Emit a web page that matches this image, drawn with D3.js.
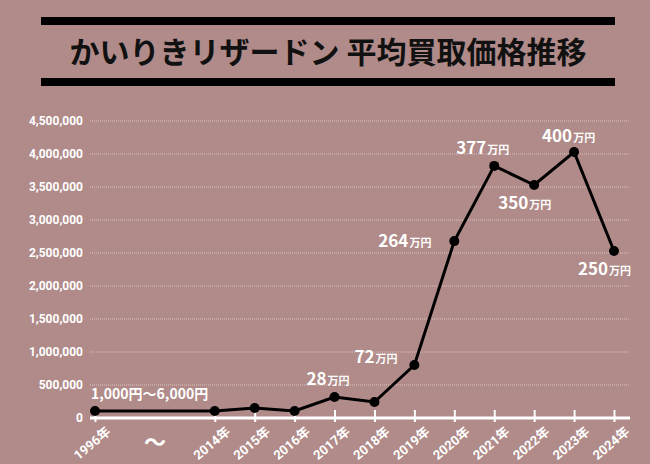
<!DOCTYPE html>
<html><head><meta charset="utf-8">
<script src="https://cdn.jsdelivr.net/npm/d3@7"></script>
<style>body{margin:0;background:#b08b89}svg{display:block;font-family:"Noto Sans CJK JP",sans-serif}</style>
</head><body><div id="chart"></div>
<script>
const slots = ["1996年", "gapA", "gapB", "2014年", "2015年", "2016年", "2017年", "2018年", "2019年", "2020年", "2021年", "2022年", "2023年", "2024年"];
const years = ["1996年", "2014年", "2015年", "2016年", "2017年", "2018年", "2019年", "2020年", "2021年", "2022年", "2023年", "2024年"];
const prices = [106000, 106000, 152000, 106000, 318000, 242000, 803000, 2680000, 3820000, 3530000, 4030000, 2530000];
const yTicks = [0, 500000, 1000000, 1500000, 2000000, 2500000, 3000000, 3500000, 4000000, 4500000];
const notes = [
  { year: "1996年", num: "1,000円〜6,000円", unit: "", dx: -4, dy: -12 },
  { year: "2017年", num: "28", unit: "万円", dx: -28, dy: -12 },
  { year: "2019年", num: "72", unit: "万円", dx: -60, dy: -2 },
  { year: "2020年", num: "264", unit: "万円", dx: -76, dy: 6 },
  { year: "2021年", num: "377", unit: "万円", dx: -38, dy: -12 },
  { year: "2022年", num: "350", unit: "万円", dx: -36, dy: 24 },
  { year: "2023年", num: "400", unit: "万円", dx: -32, dy: -10 },
  { year: "2024年", num: "250", unit: "万円", dx: -36, dy: 24 }
];

const width = 650, height = 464;
const svg = d3.select("#chart").append("svg").attr("width", width).attr("height", height);

// title with bars
svg.append("rect").attr("x", 41).attr("y", 17).attr("width", 574).attr("height", 8).attr("fill", "#000");
svg.append("rect").attr("x", 41).attr("y", 78).attr("width", 574).attr("height", 8).attr("fill", "#000");
svg.append("text").attr("x", 328).attr("y", 63).attr("text-anchor", "middle")
  .attr("font-size", 30).attr("font-weight", "bold").attr("fill", "#111")
  .text("かいりきリザードン 平均買取価格推移");

const x = d3.scalePoint().domain(slots).range([95, 614]);
const y = d3.scaleLinear().domain([0, 4500000]).range([418, 121]);

// grid
svg.append("g").selectAll("line").data(yTicks.slice(1)).join("line")
  .attr("x1", 90).attr("x2", 630).attr("y1", d => y(d)).attr("y2", d => y(d))
  .attr("stroke", "#d8c4c2").attr("stroke-dasharray", "1,1").attr("stroke-width", 1);

svg.append("g").selectAll("text").data(yTicks).join("text")
  .attr("x", 83).attr("y", d => y(d) + 4).attr("text-anchor", "end")
  .attr("fill", "#fff").attr("font-size", 12).attr("font-weight", "bold")
  .attr("font-family", "Roboto, sans-serif")
  .text(d => d3.format(",")(d));

// x axis
const xAxis = svg.append("g").attr("transform", `translate(0,${y(0)})`)
  .call(d3.axisBottom(x).tickValues(years).tickSize(8).tickSizeOuter(0).tickFormat(""));
xAxis.select(".domain").remove();
xAxis.selectAll(".tick line").attr("stroke", "#fff").attr("stroke-width", 2).attr("y1", -8).attr("y2", 4);
xAxis.append("line").attr("x1", 90).attr("x2", 630).attr("stroke", "#fff").attr("stroke-width", 3);
xAxis.selectAll(".tick").append("text")
  .attr("transform", "translate(10,8) rotate(-40)").attr("text-anchor", "end").attr("dy", "0.7em")
  .attr("fill", "#fff").attr("font-size", 13).attr("font-weight", "bold")
  .attr("font-family", "Roboto, 'Noto Sans CJK JP', sans-serif")
  .text(d => d);
svg.append("text").attr("x", (x("gapA") + x("gapB")) / 2).attr("y", 450).attr("text-anchor", "middle")
  .attr("fill", "#fff").attr("font-size", 22).attr("font-weight", "bold").text("〜");

// line + points
const pts = years.map((yr, i) => ({ yr, v: prices[i] }));
svg.append("path").datum(pts)
  .attr("d", d3.line().x(d => x(d.yr)).y(d => y(d.v)))
  .attr("fill", "none").attr("stroke", "#000").attr("stroke-width", 3);
svg.append("g").selectAll("circle").data(pts).join("circle")
  .attr("cx", d => x(d.yr)).attr("cy", d => y(d.v)).attr("r", 5).attr("fill", "#000");

// labels
const lab = svg.append("g").selectAll("text").data(notes).join("text")
  .attr("x", d => x(d.year) + d.dx)
  .attr("y", d => y(prices[years.indexOf(d.year)]) + d.dy)
  .attr("fill", "#fff").attr("font-weight", "bold");
lab.append("tspan").attr("font-size", d => d.unit ? 17 : 14).text(d => d.num);
lab.append("tspan").attr("font-size", 11).attr("dx", 1).text(d => d.unit);
</script></body></html>
